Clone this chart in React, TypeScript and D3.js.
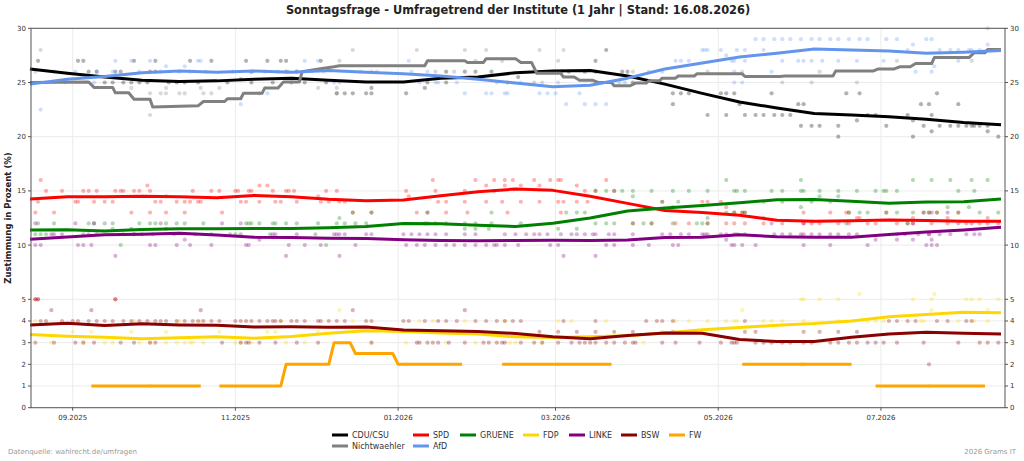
import React from "react";
import * as d3 from "d3";

type Pt = [string, number | null];

const trendDates = [
  "2025-08-16","2025-08-30","2025-09-13","2025-09-27","2025-10-11","2025-10-25","2025-11-08","2025-11-22","2025-12-06","2025-12-20",
  "2026-01-03","2026-01-17","2026-01-31","2026-02-14","2026-02-28","2026-03-14","2026-03-28","2026-04-11","2026-04-25","2026-05-09",
  "2026-05-23","2026-06-06","2026-06-20","2026-07-04","2026-07-18","2026-08-01","2026-08-15"];

const cduTrend = [26.25,25.85,25.5,25.2,25.1,25.15,25.3,25.4,25.2,25.05,25.05,25.4,25.5,25.9,26.05,26.1,25.6,24.85,24.0,23.2,22.65,22.15,22.0,21.85,21.6,21.3,21.1];
const spdTrend = [14.25,14.47,14.47,14.5,14.45,14.37,14.58,14.45,14.22,14.1,14.15,14.55,14.93,15.17,15.05,14.5,13.85,13.2,13.0,12.75,12.3,12.2,12.25,12.32,12.27,12.2,12.2];
const grueneTrend = [11.39,11.42,11.3,11.45,11.5,11.5,11.52,11.52,11.6,11.72,12.0,11.97,11.82,11.72,12.02,12.5,13.15,13.42,13.65,13.9,14.18,14.2,14.05,13.87,13.98,14.0,14.25];
const fdpTrend = [3.38,3.3,3.25,3.18,3.23,3.27,3.2,3.28,3.43,3.55,3.52,3.45,3.4,3.27,3.24,3.27,3.32,3.45,3.6,3.7,3.8,3.88,4.0,4.2,4.3,4.4,4.38];
const linkeTrend = [10.53,10.75,10.95,11.0,11.1,10.93,10.72,10.7,10.63,10.62,10.5,10.42,10.4,10.42,10.45,10.42,10.47,10.7,10.72,10.95,10.78,10.72,10.72,10.97,11.2,11.4,11.64];
const bswTrend = [3.81,3.9,3.79,3.87,3.82,3.8,3.72,3.73,3.71,3.72,3.58,3.55,3.52,3.42,3.27,3.18,3.33,3.45,3.43,3.15,3.05,3.05,3.25,3.4,3.48,3.43,3.4];
const afdTrend = [24.85,25.3,25.55,25.9,26.05,25.95,26.05,25.95,26.1,25.95,25.8,25.6,25.3,24.95,24.6,24.75,25.4,26.25,26.8,27.35,27.7,28.1,28.0,27.9,27.7,27.8,27.95];

const nwTrend: Pt[] = [
  ["2025-08-16",25.0],["2025-09-07",25.05],["2025-09-09",24.55],["2025-09-16",24.55],["2025-09-17",24.05],["2025-09-22",24.05],["2025-09-24",23.45],["2025-09-30",23.45],["2025-10-01",22.75],["2025-10-18",22.85],["2025-10-20",23.25],["2025-10-28",23.25],["2025-10-29",23.5],["2025-11-03",23.5],["2025-11-04",24.0],["2025-11-11",24.0],["2025-11-12",24.5],["2025-11-17",24.5],["2025-11-19",25.05],["2025-11-25",25.05],["2025-11-26",26.0],["2025-12-01",26.2],["2025-12-08",26.45],["2025-12-10",26.55],["2026-01-11",26.55],["2026-01-12",27.0],["2026-01-26",27.0],["2026-01-27",26.85],["2026-02-02",26.85],["2026-02-03",27.2],["2026-02-14",27.2],["2026-02-16",26.85],["2026-02-20",26.85],["2026-02-22",25.85],["2026-03-03",25.85],["2026-03-04",25.5],["2026-03-08",25.5],["2026-03-10",25.2],["2026-03-15",25.2],["2026-03-17",25.0],["2026-03-22",25.0],["2026-03-23",24.7],["2026-03-29",24.7],["2026-03-31",24.95],["2026-04-04",24.95],["2026-04-05",25.15],["2026-04-09",25.15],["2026-04-10",25.4],["2026-04-15",25.4],["2026-04-16",25.6],["2026-04-22",25.6],["2026-04-23",25.8],["2026-05-10",25.8],["2026-05-11",25.55],["2026-05-24",25.55],["2026-05-26",25.6],["2026-06-13",25.6],["2026-06-14",26.05],["2026-06-28",26.05],["2026-06-30",26.25],["2026-07-06",26.25],["2026-07-08",26.45],["2026-07-12",26.45],["2026-07-14",26.75],["2026-07-20",26.75],["2026-07-21",27.3],["2026-08-03",27.3],["2026-08-05",27.75],["2026-08-09",27.75],["2026-08-10",28.05],["2026-08-15",28.05]];

const fwTrend: Pt[] = [
  ["2025-09-08",1],["2025-10-19",1],["2025-10-22",null],["2025-10-26",1],["2025-11-18",1],["2025-11-20",2],["2025-12-06",2],["2025-12-08",3],["2025-12-14",3],["2025-12-16",2.5],["2025-12-30",2.5],["2026-01-01",2],["2026-01-25",2],["2026-02-01",null],["2026-02-09",2],["2026-03-22",2],["2026-04-01",null],["2026-05-10",2],["2026-06-20",2],["2026-06-25",null],["2026-06-29",1],["2026-08-09",1]];

const cduPolls: Pt[] = [
  ["2025-08-19",27],["2025-09-03",27],["2025-09-05",27],["2025-09-07",26],["2025-09-10",26],["2025-09-13",25],["2025-09-16",25],["2025-09-17",26],["2025-09-19",26],["2025-09-20",25],["2025-09-23",25],["2025-09-24",27],["2025-09-26",25],["2025-09-29",25],["2025-09-30",26],["2025-10-02",27],["2025-10-02",26],["2025-10-07",25],["2025-10-10",25],["2025-10-13",25],["2025-10-15",27],["2025-10-18",25],["2025-10-23",27],["2025-10-29",25],["2025-11-03",25.3],["2025-11-05",27],["2025-11-07",26],["2025-11-07",25],["2025-11-13",27],["2025-11-15",25],["2025-11-18",27],["2025-11-20",27],["2025-11-20",26],["2025-11-22",25],["2025-11-24",26],["2025-11-27",25],["2025-12-03",27],["2025-12-05",25],
  ["2025-12-09",24],["2025-12-12",24],["2025-12-15",24],["2025-12-20",24],["2025-12-22",24],["2025-12-22",24.5],["2026-01-04",24],["2026-01-11",24.5],["2026-01-12",25],["2026-01-19",25],["2026-01-19",26],["2026-01-26",26],["2026-01-30",26],["2026-02-05",26],["2026-02-11",25],["2026-02-15",25.5],["2026-03-03",26],["2026-03-06",26],["2026-03-12",26],["2026-03-16",27],["2026-03-16",26],["2026-03-20",28],["2026-03-26",26],["2026-03-28",26],["2026-03-30",25],["2026-04-14",24],["2026-04-14",23],["2026-04-17",24],["2026-04-20",24],
  ["2026-04-27",22],["2026-05-02",24],["2026-05-04",24],["2026-05-04",22],["2026-05-07",24],["2026-05-09",23],["2026-05-11",22],["2026-05-15",22],["2026-05-18",22],["2026-05-21",24],["2026-05-22",22],["2026-05-25",22],["2026-05-28",22],["2026-05-31",23],["2026-06-01",21],["2026-06-02",23],["2026-06-05",21],["2026-06-08",21],["2026-06-15",21],["2026-06-15",20],["2026-06-18",24],["2026-06-22",21.5],["2026-06-23",24],["2026-06-26",22],["2026-06-29",22],["2026-07-03",21],["2026-07-11",22],["2026-07-13",20],["2026-07-13",21.5],["2026-07-16",23],["2026-07-17",21],["2026-07-19",23],["2026-07-20",22],["2026-07-20",20.5],["2026-07-22",24],["2026-07-23",21],["2026-07-27",21],["2026-07-30",23],["2026-07-30",21],["2026-08-02",21],["2026-08-04",21],["2026-08-05",21],["2026-08-07",21],["2026-08-10",20.5],["2026-08-10",21],["2026-08-14",20]];

const nwPolls: Pt[] = [
  ["2025-08-20",28],["2025-09-23",24.5],["2025-09-30",24],["2025-09-30",22],["2025-10-04",24],["2025-10-06",24.5],["2025-10-06",24],["2025-10-11",24],["2025-10-13",24],["2025-10-19",24.5],["2025-10-20",24],["2025-10-23",24],["2025-10-26",24.5],["2025-11-10",24],["2025-12-02",24.5],["2025-12-09",24],["2025-12-09",24.5],
  ["2025-12-10",27],["2025-12-15",28],["2026-01-08",28],["2026-01-15",26],["2026-01-22",26],["2026-01-26",28],["2026-01-30",27],["2026-02-03",28],["2026-02-07",25],["2026-02-09",27],["2026-02-21",25],["2026-02-23",28],["2026-02-24",25],["2026-03-02",27],["2026-03-04",28],["2026-03-30",26],["2026-04-04",25],
  ["2026-04-27",26],["2026-05-25",25],["2026-06-05",25],["2026-06-08",26],["2026-06-22",25],["2026-07-07",27],["2026-08-04",27]];

const afdPolls: Pt[] = [
  ["2025-08-18",26],["2025-08-20",22.5],["2025-08-22",25],["2025-08-25",26],["2025-08-29",25],["2025-09-02",26],["2025-09-09",25],["2025-09-10",26],["2025-09-16",26],["2025-09-17",27],["2025-09-23",27],["2025-09-26",26],["2025-09-30",27],["2025-10-04",26],["2025-10-06",26.5],["2025-10-11",26],["2025-10-13",26.5],["2025-10-15",26],["2025-10-18",27],["2025-10-19",27],["2025-10-21",26],["2025-10-31",26],["2025-11-03",23],["2025-11-07",26],["2025-11-12",26],["2025-11-13",24],["2025-11-17",26],["2025-11-21",26],["2025-11-24",26],["2025-11-27",27],["2025-12-02",27],["2025-12-04",26],
  ["2025-12-08",25],["2025-12-10",25],["2025-12-18",26],["2025-12-22",26],["2025-12-24",26],["2026-01-05",27],["2026-01-06",26],["2026-01-09",25],["2026-01-12",26],["2026-01-15",25],["2026-01-16",25],["2026-01-23",25],["2026-01-26",24],["2026-02-03",24],["2026-02-05",24],["2026-02-10",24],["2026-02-11",24],["2026-02-16",25],["2026-02-23",24],["2026-02-26",24],["2026-03-01",24],["2026-03-02",25],["2026-03-05",23],["2026-03-10",24],["2026-03-12",23],["2026-03-16",23],["2026-03-20",23],["2026-03-25",25],["2026-03-27",25],["2026-04-05",26],["2026-04-10",26],["2026-04-15",27],["2026-04-17",27],["2026-04-20",27],["2026-04-25",28],["2026-04-26",28],
  ["2026-04-27",28],["2026-05-02",28],["2026-05-04",27.5],["2026-05-06",27],["2026-05-07",27],["2026-05-08",28],["2026-05-11",28],["2026-05-11",27],["2026-05-15",29],["2026-05-18",29],["2026-05-18",28],["2026-05-22",29],["2026-05-25",29],["2026-05-25",27],["2026-05-28",29],["2026-05-31",27],["2026-06-01",29],["2026-06-02",27],["2026-06-05",27],["2026-06-05",29],["2026-06-08",29],["2026-06-09",27],["2026-06-12",29],["2026-06-15",29],["2026-06-15",27],["2026-06-19",29],["2026-06-22",27],["2026-06-23",29],["2026-06-26",29],["2026-07-02",27],["2026-07-03",29],["2026-07-07",29],["2026-07-11",28],["2026-07-13",28.5],["2026-07-14",26],["2026-07-18",29],["2026-07-20",29],["2026-07-20",26],["2026-07-21",26.5],["2026-07-23",28],["2026-07-27",28],["2026-07-30",27],["2026-07-30",28],["2026-08-03",28],["2026-08-04",28],["2026-08-07",28],["2026-08-10",28.5],["2026-08-10",30],["2026-05-07",26],["2026-05-10",26],["2026-05-21",26],["2026-05-07",25],["2026-05-10",25]];

const spdPolls: Pt[] = [
  ["2025-08-18",13],["2025-08-18",5],["2025-08-19",5],["2025-08-19",14],["2025-08-20",16],["2025-08-22",15],["2025-08-25",13],["2025-08-28",15],["2025-09-02",14],["2025-09-03",14],["2025-09-05",15],["2025-09-07",15],["2025-09-09",14],["2025-09-10",15],["2025-09-13",14],["2025-09-16",14],["2025-09-17",15],["2025-09-17",5],["2025-09-19",15],["2025-09-20",15],["2025-09-23",13],["2025-09-24",15],["2025-09-26",15],["2025-09-29",15.5],["2025-09-30",15],["2025-09-30",13],["2025-10-02",14],["2025-10-04",14],["2025-10-06",14.5],["2025-10-06",13],["2025-10-10",14],["2025-10-13",14],["2025-10-15",14],["2025-10-13",13],["2025-10-16",15],["2025-10-18",14],["2025-10-19",14],["2025-10-23",15],["2025-10-26",15],["2025-10-27",13],["2025-11-01",15],["2025-11-02",15],["2025-11-03",14],["2025-11-05",14],["2025-11-06",15],["2025-11-07",15],["2025-11-10",15.5],["2025-11-10",14],["2025-11-13",15.5],["2025-11-15",15],["2025-11-16",14],["2025-11-18",14],["2025-11-20",15],["2025-11-21",15],["2025-11-23",15],["2025-11-24",14],["2025-12-02",14.5],["2025-12-03",14],["2025-12-05",15],["2025-12-09",15],
  ["2025-12-06",14],["2025-12-10",14],["2025-12-12",14],["2025-12-15",13],["2025-12-22",13],["2026-01-04",15],["2026-01-05",14.5],["2026-01-08",13],["2026-01-12",13],["2026-01-14",16],["2026-01-15",15],["2026-01-16",14],["2026-01-19",14],["2026-01-19",13],["2026-01-26",14],["2026-01-26",15],["2026-01-27",13],["2026-01-30",16],["2026-02-03",15.5],["2026-02-03",14],["2026-02-06",16],["2026-02-06",15],["2026-02-09",14],["2026-02-10",15.5],["2026-02-10",16],["2026-02-11",13],["2026-02-13",16],["2026-02-16",15.5],["2026-02-16",14],["2026-02-21",16],["2026-02-23",15.5],["2026-02-23",14],["2026-02-27",16],["2026-03-02",16],["2026-03-03",16],["2026-03-02",14],["2026-03-03",13],["2026-03-04",14],["2026-03-09",15.5],["2026-03-09",14],["2026-03-12",15],["2026-03-13",14],["2026-03-16",15],["2026-03-20",16],["2026-03-23",15],["2026-03-30",12],["2026-04-06",12],["2026-04-10",14],["2026-04-15",12],["2026-04-20",12],
  ["2026-04-25",14],["2026-04-27",14],["2026-04-27",12],["2026-05-02",14],["2026-05-04",13.5],["2026-05-04",12],["2026-05-07",12],["2026-05-07",13],["2026-05-10",13],["2026-05-11",13],["2026-05-11",12],["2026-05-18",12.5],["2026-05-18",12],["2026-05-25",12],["2026-06-02",13],["2026-06-02",12],["2026-06-05",12],["2026-06-08",12],["2026-06-12",13],["2026-06-15",12],["2026-06-18",13],["2026-06-19",12],["2026-06-19",13],["2026-06-22",12.5],["2026-06-23",12.5],["2026-06-26",12],["2026-06-29",12],["2026-07-03",13],["2026-07-07",12],["2026-07-11",12],["2026-07-13",12],["2026-07-13",12.5],["2026-07-17",13],["2026-07-19",11],["2026-07-19",13],["2026-07-20",12],["2026-07-22",13],["2026-07-26",12],["2026-07-26",12.5],["2026-07-30",13],["2026-08-02",12],["2026-08-07",12],["2026-08-10",12],["2026-08-10",12.5],["2026-08-14",12]];

const gruenePolls: Pt[] = [
  ["2025-08-18",11],["2025-08-19",12],["2025-08-20",11],["2025-08-22",11],["2025-08-25",12],["2025-09-05",11],["2025-09-07",12],["2025-09-09",12],["2025-09-13",12],["2025-09-16",12],["2025-09-16",11.5],["2025-09-19",10],["2025-09-20",11],["2025-09-24",11],["2025-09-26",12],["2025-09-30",12],["2025-10-01",11],["2025-10-02",12],["2025-10-06",12],["2025-10-10",12],["2025-10-13",12],["2025-10-17",11],["2025-10-20",12],["2025-10-30",11],["2025-11-01",11],["2025-11-05",12],["2025-11-06",12],["2025-11-07",12],["2025-11-10",12],["2025-11-14",11],["2025-11-15",12],["2025-11-16",12],["2025-11-20",12],["2025-11-24",12],["2025-12-01",11],["2025-12-02",12],["2025-12-05",10],["2025-12-09",12],
  ["2025-12-10",12.5],["2025-12-12",12],["2025-12-15",13],["2025-12-16",12],["2025-12-20",12],["2025-12-22",13],["2026-01-11",12],["2026-01-12",12],["2026-01-12",13],["2026-01-15",12],["2026-01-19",12],["2026-01-26",12],["2026-01-26",11.5],["2026-01-30",12],["2026-01-30",11.5],["2026-02-04",11.5],["2026-02-05",12],["2026-02-05",13],["2026-02-16",12],["2026-03-02",11.5],["2026-03-05",13],["2026-03-09",13],["2026-03-09",11.5],["2026-03-12",13],["2026-03-16",15],["2026-03-16",12],["2026-03-20",15],["2026-03-20",12],["2026-03-23",15],["2026-03-23",12],["2026-03-26",15],["2026-03-30",15],["2026-03-30",14.5],["2026-03-30",12],["2026-04-03",12],["2026-04-06",15],["2026-04-06",12],["2026-04-10",14],["2026-04-14",15],["2026-04-14",13.5],["2026-04-14",12],["2026-04-16",14],["2026-04-20",15],["2026-04-23",12],
  ["2026-04-25",12],["2026-04-27",15],["2026-04-27",12.5],["2026-04-27",12],["2026-05-04",16],["2026-05-04",13],["2026-05-07",15],["2026-05-07",13],["2026-05-08",15],["2026-05-10",13],["2026-05-11",15],["2026-05-11",13],["2026-05-18",14],["2026-05-21",15],["2026-05-25",15],["2026-05-25",14],["2026-06-01",16],["2026-06-01",15],["2026-06-01",13.5],["2026-06-02",15],["2026-06-05",14],["2026-06-08",15],["2026-06-08",14.5],["2026-06-12",14],["2026-06-15",15],["2026-06-15",14.5],["2026-06-18",12],["2026-06-19",13],["2026-06-22",15],["2026-06-23",13],["2026-06-26",13],["2026-06-29",15],["2026-07-02",15],["2026-07-03",15],["2026-07-03",13],["2026-07-07",15],["2026-07-07",13],["2026-07-11",12],["2026-07-13",16],["2026-07-13",13],["2026-07-17",13],["2026-07-19",13],["2026-07-20",16],["2026-07-22",13],["2026-07-26",13.5],["2026-07-27",16],["2026-07-30",15],["2026-07-30",13],["2026-08-03",13.5],["2026-08-04",16],["2026-08-05",15],["2026-08-07",13],["2026-08-10",16],["2026-08-14",13]];

const linkePolls: Pt[] = [
  ["2025-08-18",12],["2025-08-18",10],["2025-08-20",10],["2025-08-24",11],["2025-08-25",11],["2025-08-28",11],["2025-09-02",12],["2025-09-03",10],["2025-09-05",10],["2025-09-07",11],["2025-09-08",10],["2025-09-09",12],["2025-09-10",11],["2025-09-17",9],["2025-09-23",11.5],["2025-09-24",11],["2025-09-27",11],["2025-09-30",10],["2025-10-02",10],["2025-10-04",12],["2025-10-06",11.5],["2025-10-09",11],["2025-10-10",10],["2025-10-13",10.5],["2025-10-15",10],["2025-10-23",10],["2025-10-23",11],["2025-10-27",12],["2025-11-03",12],["2025-11-03",11],["2025-11-05",10],["2025-11-06",10],["2025-11-10",10.5],["2025-11-15",11],["2025-11-16",11],["2025-11-20",9],["2025-11-21",10],["2025-11-24",11],["2025-11-27",10],["2025-12-03",10],["2025-12-09",11],
  ["2025-12-08",11],["2025-12-10",11],["2025-12-10",9],["2025-12-12",11],["2025-12-16",10],["2025-12-20",11],["2025-12-22",11],["2026-01-03",11],["2026-01-04",10],["2026-01-06",11],["2026-01-08",10],["2026-01-09",11],["2026-01-11",10],["2026-01-12",11],["2026-01-15",11],["2026-01-15",10],["2026-01-19",11],["2026-01-19",10],["2026-01-22",10],["2026-01-26",11],["2026-01-26",10],["2026-01-30",11],["2026-01-30",10],["2026-02-03",10],["2026-02-06",10],["2026-02-07",10],["2026-02-10",11],["2026-02-10",10],["2026-02-14",11],["2026-02-15",10],["2026-02-18",11],["2026-02-21",11],["2026-02-23",11],["2026-02-26",11],["2026-02-27",10],["2026-03-02",10],["2026-03-03",11],["2026-03-04",9],["2026-03-07",11],["2026-03-09",11],["2026-03-12",11],["2026-03-15",11],["2026-03-16",11],["2026-03-16",9],["2026-03-20",10],["2026-03-21",11],["2026-03-23",11],["2026-03-23",10],["2026-03-30",11],["2026-03-30",10],["2026-04-05",10],["2026-04-10",11],["2026-04-13",11],["2026-04-14",10],["2026-04-16",10],["2026-04-17",11],["2026-04-20",11],["2026-04-26",11],
  ["2026-04-25",11],["2026-04-27",11],["2026-05-02",11],["2026-05-04",11],["2026-05-04",10.5],["2026-05-06",10],["2026-05-07",11],["2026-05-07",10],["2026-05-08",11],["2026-05-10",10],["2026-05-11",11],["2026-05-15",10],["2026-05-21",12],["2026-05-22",11],["2026-05-25",11],["2026-05-28",11],["2026-06-01",11],["2026-06-02",12],["2026-06-02",11],["2026-06-02",10],["2026-06-05",11],["2026-06-08",11],["2026-06-12",11],["2026-06-12",10],["2026-06-15",11],["2026-06-19",11],["2026-06-22",11],["2026-06-26",10],["2026-06-29",10.5],["2026-07-07",11],["2026-07-07",10.5],["2026-07-10",11],["2026-07-13",12],["2026-07-13",10.5],["2026-07-15",11],["2026-07-18",10],["2026-07-19",11],["2026-07-20",10.5],["2026-07-20",10],["2026-07-20",13],["2026-07-22",10],["2026-07-23",11],["2026-07-26",13],["2026-07-27",11],["2026-07-30",12],["2026-08-02",11],["2026-08-04",12],["2026-08-05",11],["2026-08-07",11]];

const fdpPolls: Pt[] = [
  ["2025-08-18",4],["2025-08-24",3],["2025-09-01",3.5],["2025-09-05",3],["2025-09-08",3.5],["2025-09-13",3],["2025-09-16",3],["2025-09-23",3.5],["2025-09-24",4],["2025-09-26",3],["2025-09-30",3],["2025-10-06",3.5],["2025-10-06",3],["2025-10-10",3],["2025-10-11",4],["2025-10-13",3],["2025-10-15",3],["2025-10-16",3],["2025-10-19",4],["2025-10-20",3],["2025-10-26",3.5],["2025-11-01",3],["2025-11-03",3],["2025-11-07",3],["2025-11-13",3.5],["2025-11-16",3.5],["2025-11-18",4],["2025-11-20",3],["2025-11-27",3],["2025-12-02",3.5],
  ["2025-12-10",4.5],["2025-12-15",4],["2025-12-22",3],["2026-01-04",3],["2026-01-09",4],["2026-01-14",4],["2026-01-19",3],["2026-01-26",4],["2026-01-30",3],["2026-02-10",4],["2026-02-12",3],["2026-02-14",3],["2026-02-24",3],["2026-03-02",4],["2026-03-07",4],["2026-03-20",4],["2026-04-03",3],["2026-04-10",3.5],["2026-04-15",4],["2026-04-20",4],
  ["2026-04-27",4],["2026-05-04",4],["2026-05-07",4],["2026-05-08",4],["2026-05-10",4.5],["2026-05-18",4],["2026-05-21",4],["2026-05-25",4],["2026-06-01",5],["2026-06-02",5],["2026-06-02",4],["2026-06-08",5],["2026-06-15",5],["2026-06-15",4],["2026-06-23",5.5],["2026-06-26",4],["2026-06-29",4],["2026-07-02",4],["2026-07-13",5],["2026-07-16",4],["2026-07-17",4],["2026-07-20",5],["2026-07-20",4.5],["2026-07-21",5.5],["2026-07-30",4],["2026-08-02",5],["2026-08-04",5],["2026-08-05",4],["2026-08-07",5],["2026-08-10",4],["2026-08-10",4.5],["2026-08-14",5]];

const bswPolls: Pt[] = [
  ["2025-08-18",5],["2025-08-19",5],["2025-08-18",3],["2025-08-20",4],["2025-08-22",4],["2025-08-24",4.5],["2025-08-25",3],["2025-08-28",4],["2025-09-01",4],["2025-09-02",3],["2025-09-03",4],["2025-09-05",3],["2025-09-07",4],["2025-09-08",4.5],["2025-09-09",3],["2025-09-10",4],["2025-09-13",4],["2025-09-16",4],["2025-09-17",5],["2025-09-19",3],["2025-09-20",4],["2025-09-23",4],["2025-09-24",3],["2025-09-26",4],["2025-09-29",4],["2025-09-30",3],["2025-10-02",4],["2025-10-02",3],["2025-10-04",4],["2025-10-06",4],["2025-10-10",4],["2025-10-13",4],["2025-10-16",4],["2025-10-18",4],["2025-10-19",4.5],["2025-10-20",4],["2025-10-23",4],["2025-10-26",4],["2025-10-27",3],["2025-11-01",4],["2025-11-03",4],["2025-11-03",3],["2025-11-05",4],["2025-11-05",3],["2025-11-06",3],["2025-11-07",4],["2025-11-10",4],["2025-11-10",3],["2025-11-13",4],["2025-11-15",4],["2025-11-16",4],["2025-11-16",3],["2025-11-18",4],["2025-11-22",4],["2025-11-24",4],["2025-11-24",3],["2025-11-27",4],["2025-12-02",4],["2025-12-02",3],["2025-12-03",4],
  ["2025-12-06",4],["2025-12-09",4],["2025-12-12",4],["2025-12-15",4.5],["2025-12-20",4],["2025-12-22",4],["2025-12-22",3],["2026-01-03",4],["2026-01-05",4],["2026-01-08",3],["2026-01-09",3],["2026-01-11",4],["2026-01-12",3],["2026-01-14",3],["2026-01-16",4],["2026-01-16",3],["2026-01-19",4],["2026-01-20",3],["2026-01-23",4],["2026-01-26",4.5],["2026-01-26",3],["2026-01-30",4],["2026-02-02",3],["2026-02-03",4],["2026-02-04",3],["2026-02-07",4],["2026-02-07",3],["2026-02-09",3],["2026-02-10",4],["2026-02-10",3],["2026-02-13",4],["2026-02-16",4],["2026-02-16",3],["2026-02-21",3],["2026-02-23",3.5],["2026-02-24",3],["2026-03-02",3.5],["2026-03-02",3],["2026-03-04",4],["2026-03-07",3],["2026-03-09",3.5],["2026-03-10",3],["2026-03-12",3],["2026-03-14",3],["2026-03-16",4],["2026-03-16",3.5],["2026-03-16",3],["2026-03-20",3],["2026-03-23",3.5],["2026-03-23",3],["2026-03-27",3],["2026-03-30",3.5],["2026-03-30",3],["2026-03-31",3],["2026-04-04",4],["2026-04-08",4],["2026-04-10",4],["2026-04-10",3],["2026-04-14",4],["2026-04-14",3.5],["2026-04-15",3],["2026-04-24",3],
  ["2026-05-02",3],["2026-05-06",3],["2026-05-07",3],["2026-05-08",3],["2026-05-11",4],["2026-05-11",3.5],["2026-05-15",3.5],["2026-05-15",3],["2026-05-18",3],["2026-05-21",3],["2026-05-25",3],["2026-05-28",3],["2026-06-02",3.5],["2026-06-02",3],["2026-06-05",3],["2026-06-08",3.5],["2026-06-12",3],["2026-06-15",3.5],["2026-06-15",3],["2026-06-19",3],["2026-06-22",3.5],["2026-06-22",3],["2026-06-26",3],["2026-06-29",3],["2026-07-02",3],["2026-07-04",4],["2026-07-07",4],["2026-07-07",3],["2026-07-11",4],["2026-07-14",4],["2026-07-17",3],["2026-07-19",2],["2026-07-22",4],["2026-07-26",4],["2026-07-30",3],["2026-08-02",4],["2026-08-04",4],["2026-08-07",3],["2026-08-10",3],["2026-08-14",3]];

const fwPolls: Pt[] = [["2025-09-30",1],["2026-01-04",2],["2026-03-02",2],["2026-06-01",2],["2026-06-02",2],["2026-07-19",1]];

const yTicks = [0, 1, 2, 3, 4, 5, 10, 15, 20, 25, 30];
const legendRow1 = ["CDU/CSU", "SPD", "GRUENE", "FDP", "LINKE", "BSW", "FW"];
const legendRow2 = ["Nichtwaehler", "AfD"];
const colors: Record<string, string> = {
  "CDU/CSU": "#000000", SPD: "#ff0000", GRUENE: "#008000", FDP: "#ffd700", LINKE: "#800080",
  BSW: "#8b0000", FW: "#ffa500", Nichtwaehler: "#808080", AfD: "#6495ed",
};

const parse = d3.timeParse("%Y-%m-%d");
const zipTrend = (vals: number[]): Pt[] => trendDates.map((d, i) => [d, vals[i]]);

const series: { name: string; trend: Pt[]; polls: Pt[] }[] = [
  { name: "CDU/CSU", trend: zipTrend(cduTrend), polls: cduPolls },
  { name: "SPD", trend: zipTrend(spdTrend), polls: spdPolls },
  { name: "GRUENE", trend: zipTrend(grueneTrend), polls: gruenePolls },
  { name: "FDP", trend: zipTrend(fdpTrend), polls: fdpPolls },
  { name: "LINKE", trend: zipTrend(linkeTrend), polls: linkePolls },
  { name: "BSW", trend: zipTrend(bswTrend), polls: bswPolls },
  { name: "FW", trend: fwTrend, polls: fwPolls },
  { name: "Nichtwaehler", trend: nwTrend, polls: nwPolls },
  { name: "AfD", trend: zipTrend(afdTrend), polls: afdPolls },
];

const W = 1024, H = 461;
const L = 31, R = 1005, T = 28.3, B = 407.7;
const FONT = "DejaVu Sans, sans-serif";

export default function App() {
  const x = d3.scaleTime()
    .domain([new Date(2025, 7, 16, 9), new Date(2026, 7, 16, 12)])
    .range([L, R]);
  const y = d3.scaleLinear().domain([0, 5, 30]).range([B, 299.3, T]);
  const xTicks = x.ticks(d3.timeMonth.every(2) as any);
  const fmt = d3.timeFormat("%m.%Y");
  const line = d3.line<Pt>()
    .defined((d) => d[1] != null)
    .x((d) => x(parse(d[0]) as Date))
    .y((d) => y(d[1] as number));

  const legendColX = [332, 413, 460, 523, 569, 621, 669];

  return (
    <svg width={W} height={H} style={{ position: "absolute", left: 0, top: 0, background: "#fff" }} fontFamily={FONT}>
      <rect x={0} y={0} width={W} height={H} fill="#fff" />
      {yTicks.map((t) => (
        <line key={"gy" + t} x1={L} x2={R} y1={y(t)} y2={y(t)} stroke="#ebebeb" strokeWidth={1} />
      ))}
      {xTicks.map((t, i) => (
        <line key={"gx" + i} x1={x(t)} x2={x(t)} y1={T} y2={B} stroke="#ebebeb" strokeWidth={1} />
      ))}
      {series.map((s) => (
        <g key={"p" + s.name} fill={colors[s.name]} fillOpacity={0.3}>
          {s.polls.map((p, i) => (
            <circle key={i} cx={x(parse(p[0]) as Date)} cy={y(p[1] as number)} r={2.1} />
          ))}
        </g>
      ))}
      {series.map((s) => (
        <path key={"l" + s.name} d={line(s.trend) || ""} fill="none" stroke={colors[s.name]}
          strokeWidth={3} strokeLinejoin="round" strokeLinecap="butt" />
      ))}
      <rect x={L} y={T} width={R - L} height={B - T} fill="none" stroke="#555" strokeWidth={1} />
      {yTicks.map((t) => (
        <g key={"yt" + t} fontSize={7} fill="#333">
          <line x1={L - 3} x2={L} y1={y(t)} y2={y(t)} stroke="#555" />
          <line x1={R} x2={R + 3} y1={y(t)} y2={y(t)} stroke="#555" />
          <text x={L - 5} y={y(t)} dy="0.35em" textAnchor="end">{t}</text>
          <text x={R + 5} y={y(t)} dy="0.35em" textAnchor="start">{t}</text>
        </g>
      ))}
      {xTicks.map((t, i) => (
        <g key={"xt" + i} fontSize={7} fill="#333">
          <line x1={x(t)} x2={x(t)} y1={B} y2={B + 3} stroke="#555" />
          <text x={x(t)} y={B + 12} textAnchor="middle">{fmt(t)}</text>
        </g>
      ))}
      <text x={(L + R) / 2} y={14} textAnchor="middle" fontSize={11.4} fontWeight="bold" fill="#222">
        Sonntagsfrage - Umfragetrend der Institute (1 Jahr | Stand: 16.08.2026)
      </text>
      <text transform={`translate(11,${(T + B) / 2}) rotate(-90)`} textAnchor="middle" fontSize={8.5} fontWeight="bold" fill="#222">
        Zustimmung in Prozent (%)
      </text>
      {legendRow1.map((n, i) => (
        <g key={"lg1" + n}>
          <line x1={legendColX[i]} x2={legendColX[i] + 16} y1={435} y2={435} stroke={colors[n]} strokeWidth={3} />
          <text x={legendColX[i] + 20} y={435} dy="0.35em" fontSize={8} fill="#333">{n}</text>
        </g>
      ))}
      {legendRow2.map((n, i) => (
        <g key={"lg2" + n}>
          <line x1={legendColX[i]} x2={legendColX[i] + 16} y1={446} y2={446} stroke={colors[n]} strokeWidth={3} />
          <text x={legendColX[i] + 20} y={446} dy="0.35em" fontSize={8} fill="#333">{n}</text>
        </g>
      ))}
      <text x={8} y={454} fontSize={7} fill="#999">Datenquelle: wahlrecht.de/umfragen</text>
      <text x={1016} y={454} fontSize={7} fill="#999" textAnchor="end">2026 Grams IT</text>
    </svg>
  );
}
